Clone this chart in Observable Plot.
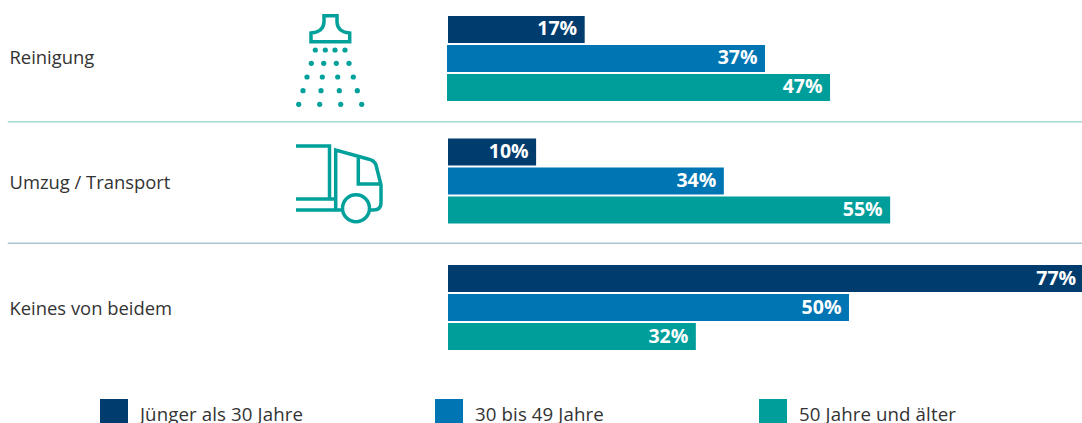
<!DOCTYPE html>
<html lang="de">
<head>
<meta charset="utf-8">
<script src="https://cdn.jsdelivr.net/npm/d3@7"></script>
<script src="https://cdn.jsdelivr.net/npm/@observablehq/plot@0.6"></script>
<style>
html,body{margin:0;padding:0;background:#fff;overflow:hidden;width:1082px;height:423px}
#wrap{position:relative;width:1082px;height:423px;overflow:hidden;font-family:"Open Sans",sans-serif}
#wrap svg{display:block}
.lg{position:absolute;top:399px;height:24px;display:flex;align-items:flex-start;color:#333;font-size:18.7px;line-height:24px;letter-spacing:.1px;white-space:nowrap}
.lg i{display:block;width:28px;height:24px;margin-right:12px}
.lg span{display:block;margin-top:3px}
</style>
</head>
<body>
<div id="wrap"></div>
<script>
const categories = ["Reinigung", "Umzug / Transport", "Keines von beidem"];
const ageGroups = ["Jünger als 30 Jahre", "30 bis 49 Jahre", "50 Jahre und älter"];
const ageColors = ["#003c6e", "#0075b4", "#009e9b"];
const legendLefts = [100, 435, 759];
// printed percentages
const labelsReinigung = ["17%", "37%", "47%"];
const labelsUmzug = ["10%", "34%", "55%"];
const labelsKeines = ["77%", "50%", "32%"];
// drawn bar lengths and starts
const barsReinigung = [16.6, 38.5, 46.4];
const barsUmzug = [10.7, 33.5, 53.7];
const barsKeines = [77.2, 48.7, 30.1];
const startsReinigung = [0, -0.12, -0.12];
const startsOther = [0, 0, 0];

const table = (cat, vals, labs, starts) => vals.map((v, i) => ({cat, age: ageGroups[i], v, s: starts[i], lab: labs[i]}));
const g1 = table(categories[0], barsReinigung, labelsReinigung, startsReinigung);
const g2 = table(categories[1], barsUmzug, labelsUmzug, startsOther);
const g3 = table(categories[2], barsKeines, labelsKeines, startsOther);

const barOpts = {x1: "s", x2: "v", y: "age", fy: "cat", fill: "age"};
const labOpts = {
  x: "v", y: "age", fy: "cat", text: "lab", fill: "#fff", textAnchor: "end", dx: -8,
  fontSize: 19.5, fontWeight: 700, fontFamily: "'Open Sans',sans-serif", style: {letterSpacing: "0.8px"}
};
const catLabel = (cat, dy = 0) => Plot.text([cat], {
  fy: d => d, text: d => d, frameAnchor: "left", textAnchor: "start", dx: 9, dy,
  fontSize: 18.4, fill: "#333", fontFamily: "'Open Sans',sans-serif", style: {letterSpacing: "0.1px"}
});
const sep = (cat, color, dy) => Plot.frame({anchor: "bottom", fy: () => cat, stroke: color, strokeWidth: 1.5, strokeOpacity: 1, insetLeft: 8, dy});

const iconColor = "#00a09b";
function icons() {
  const g = d3.create("svg:g").attr("fill", "none").attr("stroke", iconColor).attr("stroke-width", 3.5);
  g.append("path").attr("d", "M311,41.8V33Q323.5,32 324,22V15.8H337V22Q337.5,32 349.7,33V41.8Z");
  const rows = [[50, [315.3, 325.3, 335, 345]], [63.3, [311.3, 323.7, 336.3, 349]], [77, [307, 322.3, 337.7, 353.3]], [90.7, [303, 321, 339.3, 357.3]], [104.3, [298.7, 319.7, 340.7, 361.7]]];
  for (const [y, xs] of rows) for (const x of xs)
    g.append("circle").attr("cx", x).attr("cy", y).attr("r", 2.6).attr("fill", iconColor).attr("stroke", "none");
  g.append("path").attr("d", "M296,146H329.5V199M296,199H335M296,210H342");
  g.append("path").attr("d", "M335.7,209V150L368,159Q374,160 376,165L381,185V203Q381,210 373,210H369");
  g.append("path").attr("d", "M358.3,158V184H380");
  g.append("circle").attr("cx", 356).attr("cy", 208.3).attr("r", 13.5);
  return g.node();
}

const chart = Plot.plot({
  width: 1082, height: 399,
  marginLeft: 0, marginRight: 0, marginTop: 0, marginBottom: 0,
  x: {domain: [0, 77], range: [448, 1082], axis: null},
  y: {domain: ageGroups, range: [19.75, 104.75], paddingInner: 2 / 29, paddingOuter: 0, axis: null},
  fy: {domain: categories, range: [-3.75, 369.75], padding: 0, axis: null},
  color: {domain: ageGroups, range: ageColors},
  style: {background: "transparent"},
  marks: [
    Plot.barX(g1, {...barOpts, dy: -1}),
    Plot.barX(g2, {...barOpts, dy: -2.5}),
    Plot.barX(g3, barOpts),
    Plot.text(g1, {...labOpts, dy: -2}),
    Plot.text(g2, {...labOpts, dy: -3}),
    Plot.text(g3, {...labOpts, dy: -0.5}),
    catLabel(categories[0], -1),
    catLabel(categories[1], 0),
    catLabel(categories[2], 1.5),
    sep(categories[0], "#a5d9d6", 0.25),
    sep(categories[1], "#a9c5d1", -2.25)
  ]
});
chart.append(icons());
const wrap = document.getElementById("wrap");
wrap.appendChild(chart);
ageGroups.forEach((a, i) => {
  const d = document.createElement("div");
  d.className = "lg";
  d.style.left = legendLefts[i] + "px";
  const sw = document.createElement("i");
  sw.style.background = ageColors[i];
  const t = document.createElement("span");
  t.textContent = a;
  d.append(sw, t);
  wrap.appendChild(d);
});
</script>
</body>
</html>
